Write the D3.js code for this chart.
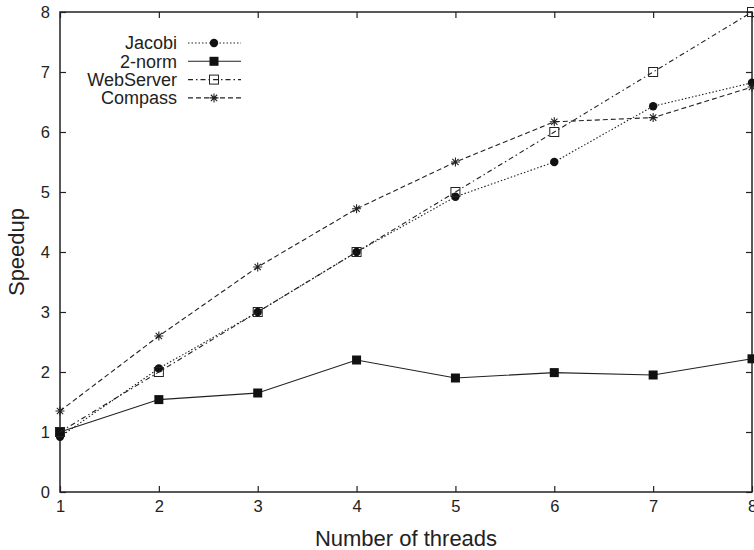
<!DOCTYPE html>
<html>
<head>
  <meta charset="utf-8">
  <title>Speedup</title>
  <script src="https://d3js.org/d3.v7.min.js"></script>
  <style>
    body, html { margin: 0; padding: 0; background: #fff; }
    body { font-family: "Liberation Sans", Arial, Helvetica, sans-serif; }
    .tick text { font-size: 16.5px; fill: #222; font-family: "Liberation Sans", Arial, sans-serif; }
    .axis .domain { display: none; }
    .axis .tick line { stroke: #222; stroke-width: 1.2; }
    .title { font-size: 22px; fill: #222; }
    .legend text { font-size: 18px; fill: #222; }
  </style>
</head>
<body>
  <div id="chart"></div>
  <script>
    // data
    const threads = [1, 2, 3, 4, 5, 6, 7, 8]
    const jacobi = [0.92, 2.06, 3.0, 4.0, 4.92, 5.5, 6.43, 6.82]
    const twoNorm = [1.0, 1.54, 1.65, 2.2, 1.9, 1.99, 1.95, 2.22]
    const webServer = [1.0, 2.0, 3.0, 4.0, 5.0, 6.0, 7.0, 8.0]
    const compass = [1.35, 2.6, 3.75, 4.72, 5.5, 6.17, 6.24, 6.75]
    const yTicks = [0, 1, 2, 3, 4, 5, 6, 7, 8]

    const series = [
      { name: 'Jacobi', values: jacobi, dash: '1.5,2', marker: 'circle' },
      { name: '2-norm', values: twoNorm, dash: null, marker: 'square' },
      { name: 'WebServer', values: webServer, dash: '5,3,1.5,3', marker: 'openSquare' },
      { name: 'Compass', values: compass, dash: '5,3', marker: 'star' }
    ]

    const W = 754, H = 550
    const margin = { left: 60, right: 2, top: 12, bottom: 58 }
    const width = W - margin.left - margin.right
    const height = H - margin.top - margin.bottom

    const svg = d3.select('#chart').append('svg')
      .attr('width', W)
      .attr('height', H)
    const chart = svg.append('g')
      .attr('transform', `translate(${margin.left},${margin.top})`)

    const xScale = d3.scaleLinear().domain([1, 8]).range([0, width])
    const yScale = d3.scaleLinear().domain([0, 8]).range([height, 0])

    // axes, ticks pointing inward
    chart.append('g')
      .attr('class', 'axis')
      .attr('transform', `translate(0,${height})`)
      .call(d3.axisBottom(xScale).tickValues(threads).tickSize(-6).tickPadding(8).tickFormat(d3.format('d')))
    chart.append('g')
      .attr('class', 'axis')
      .call(d3.axisTop(xScale).tickValues(threads).tickSize(-6).tickFormat(''))
    chart.append('g')
      .attr('class', 'axis')
      .call(d3.axisLeft(yScale).tickValues(yTicks).tickSize(-6).tickPadding(10).tickFormat(d3.format('d')))
    chart.append('g')
      .attr('class', 'axis')
      .attr('transform', `translate(${width},0)`)
      .call(d3.axisRight(yScale).tickValues(yTicks).tickSize(-6).tickFormat(''))

    // frame
    chart.append('rect')
      .attr('width', width)
      .attr('height', height)
      .attr('fill', 'none')
      .attr('stroke', '#222')
      .attr('stroke-width', 1.5)

    function drawMarker(g, type, x, y) {
      if (type === 'circle') {
        g.append('circle').attr('cx', x).attr('cy', y).attr('r', 4.2).attr('fill', '#111')
      } else if (type === 'square') {
        g.append('rect').attr('x', x - 4.5).attr('y', y - 4.5).attr('width', 9).attr('height', 9).attr('fill', '#111')
      } else if (type === 'openSquare') {
        g.append('rect').attr('x', x - 4.5).attr('y', y - 4.5).attr('width', 9).attr('height', 9)
          .attr('fill', 'none').attr('stroke', '#222').attr('stroke-width', 1)
      } else {
        const s = 4.5
        g.append('path')
          .attr('d', `M${x - s},${y}H${x + s}M${x - s * 0.7},${y - s * 0.7}L${x + s * 0.7},${y + s * 0.7}M${x - s * 0.7},${y + s * 0.7}L${x + s * 0.7},${y - s * 0.7}M${x},${y - s}V${y + s}`)
          .attr('stroke', '#222').attr('stroke-width', 1.1).attr('fill', 'none')
      }
    }

    const line = d3.line()
      .x((d, i) => xScale(threads[i]))
      .y(d => yScale(d))

    series.forEach(s => {
      chart.append('path')
        .datum(s.values)
        .attr('d', line)
        .attr('fill', 'none')
        .attr('stroke', '#222')
        .attr('stroke-width', 1.1)
        .attr('stroke-dasharray', s.dash)
      const g = chart.append('g')
      s.values.forEach((v, i) => drawMarker(g, s.marker, xScale(threads[i]), yScale(v)))
    })

    // legend
    const legend = svg.append('g').attr('class', 'legend')
    series.forEach((s, i) => {
      const y = 43 + i * 18.3
      legend.append('text')
        .attr('x', 177)
        .attr('y', y)
        .attr('dy', '0.35em')
        .attr('text-anchor', 'end')
        .text(s.name)
      legend.append('line')
        .attr('x1', 188).attr('x2', 241)
        .attr('y1', y).attr('y2', y)
        .attr('stroke', '#222')
        .attr('stroke-width', 1.1)
        .attr('stroke-dasharray', s.dash)
      drawMarker(legend, s.marker, 214, y)
    })

    // axis titles
    svg.append('text')
      .attr('class', 'title')
      .attr('x', margin.left + width / 2)
      .attr('y', 546)
      .attr('text-anchor', 'middle')
      .text('Number of threads')
    svg.append('text')
      .attr('class', 'title')
      .attr('transform', `translate(24,${margin.top + height / 2}) rotate(-90)`)
      .attr('text-anchor', 'middle')
      .text('Speedup')
  </script>
</body>
</html>
